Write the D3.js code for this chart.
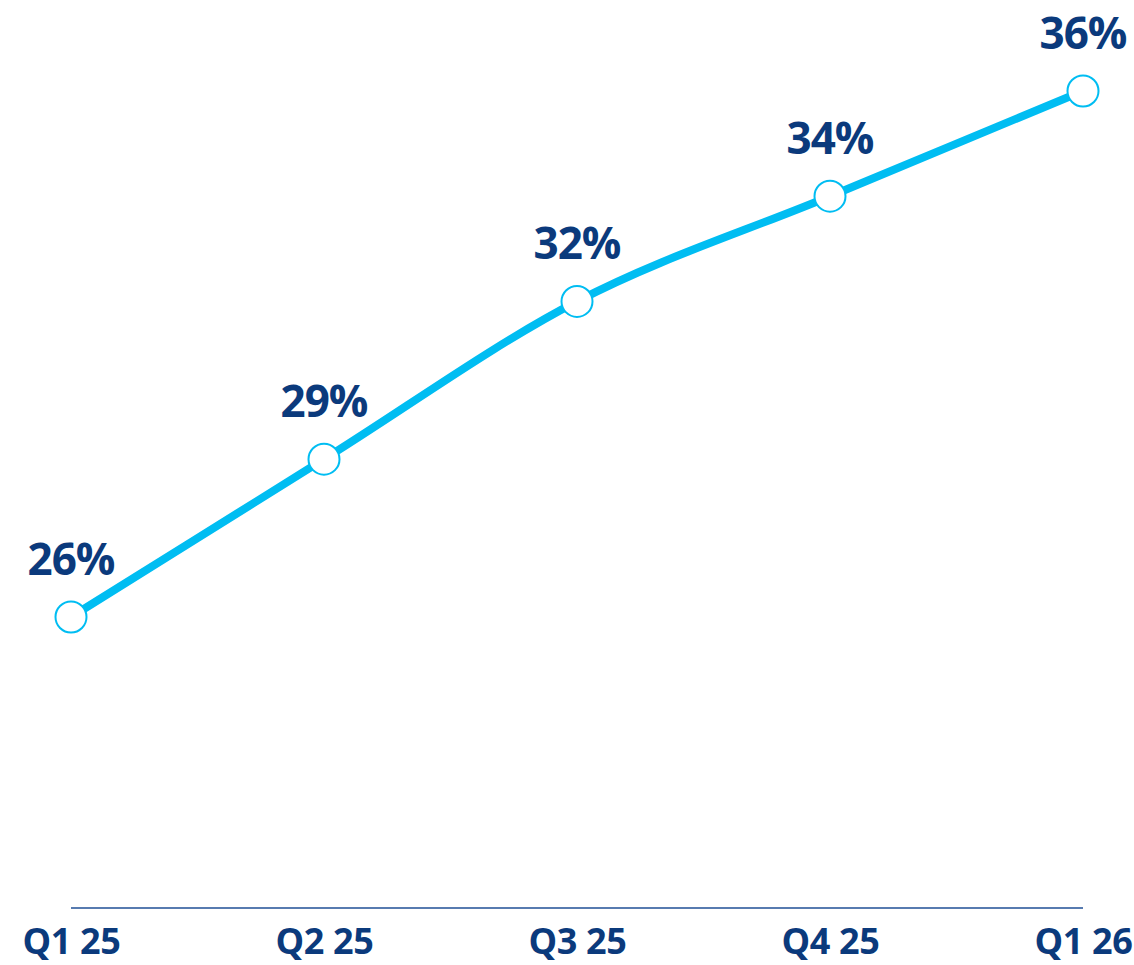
<!DOCTYPE html>
<html>
<head>
<meta charset="utf-8">
<script src="https://cdn.jsdelivr.net/npm/d3@7/dist/d3.min.js"></script>
<style>
  html, body { margin: 0; padding: 0; background: #ffffff; }
  svg { display: block; }
  text { font-family: "Open Sans", "Noto Sans", sans-serif; font-weight: 700; }
</style>
</head>
<body>
<svg id="chart" width="1134" height="965"></svg>
<script>
// Quarterly share, in percent
const quarters = ["Q1 25", "Q2 25", "Q3 25", "Q4 25", "Q1 26"];
const shareValues = [26, 29, 32, 34, 36];

const W = 1134, H = 965;
const svg = d3.select("#chart");

const x = d3.scalePoint()
  .domain(quarters)
  .range([71, 1083]);

const y = d3.scaleLinear()
  .domain([26, 36])
  .range([617, 91]);

const baselineY = 908;
const labelColor = "#0b3a7c";
const lineColor = "#00bdf2";

// Baseline axis with category labels underneath
svg.append("line")
  .attr("x1", x(quarters[0]))
  .attr("x2", x(quarters[quarters.length - 1]))
  .attr("y1", baselineY)
  .attr("y2", baselineY)
  .attr("stroke", "#1f4f96")
  .attr("stroke-width", 1.5);

const xAxis = d3.axisBottom(x).tickSize(0).tickPadding(0);
const axisG = svg.append("g")
  .attr("transform", `translate(0,${baselineY})`)
  .call(xAxis);
axisG.select(".domain").remove();
axisG.selectAll("text")
  .attr("dy", null)
  .attr("y", 46)
  .attr("fill", labelColor)
  .style("font-size", "36px")
  .style("letter-spacing", "-0.3px");

const data = quarters.map((q, i) => ({ q, v: shareValues[i] }));

// Trend line
const line = d3.line()
  .x(d => x(d.q))
  .y(d => y(d.v))
  .curve(d3.curveMonotoneX);

svg.append("path")
  .datum(data)
  .attr("d", line)
  .attr("fill", "none")
  .attr("stroke", lineColor)
  .attr("stroke-width", 8)
  .attr("stroke-linecap", "round");

// Hollow markers
svg.selectAll("circle.pt")
  .data(data)
  .join("circle")
  .attr("class", "pt")
  .attr("cx", d => x(d.q))
  .attr("cy", d => y(d.v))
  .attr("r", 15.5)
  .attr("fill", "#ffffff")
  .attr("stroke", lineColor)
  .attr("stroke-width", 2);

// Value labels
svg.selectAll("text.val")
  .data(data)
  .join("text")
  .attr("class", "val")
  .attr("x", d => x(d.q))
  .attr("y", d => y(d.v) - 42)
  .attr("text-anchor", "middle")
  .attr("fill", labelColor)
  .style("font-size", "44px")
  .style("letter-spacing", "-1px")
  .text(d => d.v + "%");
</script>
</body>
</html>
